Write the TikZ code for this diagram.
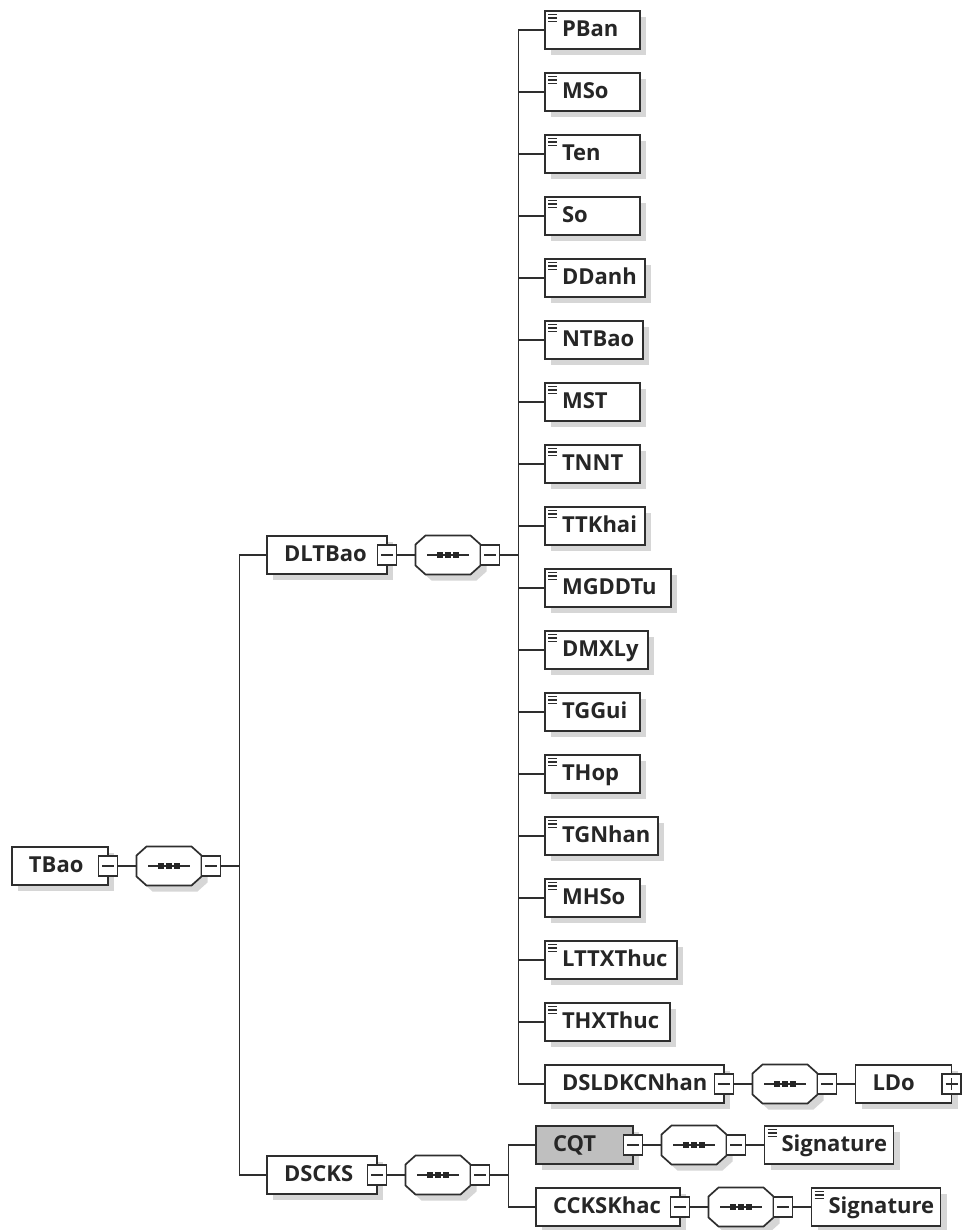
\documentclass[tikz,border=0pt]{standalone}
\usepackage{fontspec}
\setmainfont{Open Sans}
\usetikzlibrary{positioning,shadows}

\begin{document}
\begin{tikzpicture}[x=1pt, y=-1pt, line width=1.7pt, color=black!82, node distance=24pt,
  box/.style={rectangle, draw=black!82, fill=white, outer sep=0pt, inner sep=0pt,
    minimum height=38pt, text width=#1, align=left, text height=17pt, text depth=4pt,
    font=\fontsize{22}{24}\selectfont\bfseries, text=black!85, anchor=west,
    execute at begin node={\hspace*{17pt}},
    drop shadow={shadow xshift=6pt, shadow yshift=-6pt, fill=black!16, opacity=1}},
  elem/.style={box=#1, path picture={
    \draw[line width=1.3pt]
      ([shift={(3pt,-3.6pt)}]path picture bounding box.north west) -- +(9pt,0pt)
      ([shift={(3pt,-7pt)}]path picture bounding box.north west) -- +(9pt,0pt)
      ([shift={(3pt,-10.4pt)}]path picture bounding box.north west) -- +(9pt,0pt);}},
  btn/.style={rectangle, draw=black!82, fill=white, outer sep=0pt, inner sep=0pt,
    minimum width=19pt, minimum height=20pt, line width=1.4pt, path picture={
    \draw[line width=1.3pt] ([xshift=-6pt]path picture bounding box.center)
      -- ([xshift=6pt]path picture bounding box.center);}},
  plusbtn/.style={btn, path picture={
    \draw[line width=1.3pt] ([xshift=-6pt]path picture bounding box.center)
      -- ([xshift=6pt]path picture bounding box.center)
      ([yshift=-6pt]path picture bounding box.center)
      -- ([yshift=6pt]path picture bounding box.center);}},
  seq/.style={rectangle, outer sep=0pt, inner sep=0pt, minimum width=65pt, minimum height=39pt,
    append after command={\pgfextra{
    \draw[fill=white, drop shadow={shadow xshift=6pt, shadow yshift=-6pt, fill=black!16, opacity=1}]
      ([xshift=10pt]\tikzlastnode.north west) -- ([xshift=-10pt]\tikzlastnode.north east)
      -- ([yshift=-9pt]\tikzlastnode.north east) -- ([yshift=9pt]\tikzlastnode.south east)
      -- ([xshift=-10pt]\tikzlastnode.south east) -- ([xshift=10pt]\tikzlastnode.south west)
      -- ([yshift=9pt]\tikzlastnode.south west) -- ([yshift=-9pt]\tikzlastnode.north west) -- cycle;
    \draw[line width=1.3pt] ([xshift=-21pt]\tikzlastnode.center) -- ([xshift=21pt]\tikzlastnode.center);
    \fill[black!85] ([xshift=-8pt]\tikzlastnode.center) +(-2.8pt,-2.8pt) rectangle +(2.8pt,2.8pt)
      (\tikzlastnode.center) +(-2.8pt,-2.8pt) rectangle +(2.8pt,2.8pt)
      ([xshift=8pt]\tikzlastnode.center) +(-2.8pt,-2.8pt) rectangle +(2.8pt,2.8pt);}}}]

  \useasboundingbox (0,0) rectangle (963,1230);

  % root
  \node (TBao) [box=96pt] at (12,866) {TBao};
  \node (TBaoB) [btn] at (TBao.east) {};
  \node (TBaoS) [seq, right=19pt of TBaoB] {};
  \node (TBaoSB) [btn, right=0pt of TBaoS] {};
  \coordinate [right=19pt of TBaoSB] (bus0);

  % DLTBao
  \node (DLTBao) [box=120pt] at (267,555) {DLTBao};
  \node (DLTBaoB) [btn] at (DLTBao.east) {};
  \node (DLTBaoS) [seq, right=19pt of DLTBaoB] {};
  \node (DLTBaoSB) [btn, right=0pt of DLTBaoS] {};
  \coordinate [right=19pt of DLTBaoSB] (bus1);

  \node (PBan) [elem=95pt] at (545,30) {PBan};
  \node (MSo) [elem=95pt, below=of PBan.south west, anchor=north west] {MSo};
  \node (Ten) [elem=95pt, below=of MSo.south west, anchor=north west] {Ten};
  \node (So) [elem=95pt, below=of Ten.south west, anchor=north west] {So};
  \node (DDanh) [elem=100pt, below=of So.south west, anchor=north west] {DDanh};
  \node (NTBao) [elem=98pt, below=of DDanh.south west, anchor=north west] {NTBao};
  \node (MST) [elem=95pt, below=of NTBao.south west, anchor=north west] {MST};
  \node (TNNT) [elem=95pt, below=of MST.south west, anchor=north west] {TNNT};
  \node (TTKhai) [elem=100pt, below=of TNNT.south west, anchor=north west] {TTKhai};
  \node (MGDDTu) [elem=126pt, below=of TTKhai.south west, anchor=north west] {MGDDTu};
  \node (DMXLy) [elem=103pt, below=of MGDDTu.south west, anchor=north west] {DMXLy};
  \node (TGGui) [elem=95pt, below=of DMXLy.south west, anchor=north west] {TGGui};
  \node (THop) [elem=95pt, below=of TGGui.south west, anchor=north west] {THop};
  \node (TGNhan) [elem=113pt, below=of THop.south west, anchor=north west] {TGNhan};
  \node (MHSo) [elem=95pt, below=of TGNhan.south west, anchor=north west] {MHSo};
  \node (LTTXThuc) [elem=132pt, below=of MHSo.south west, anchor=north west] {LTTXThuc};
  \node (THXThuc) [elem=125pt, below=of LTTXThuc.south west, anchor=north west] {THXThuc};
  \node (DSLDKCNhan) [box=179pt, below=of THXThuc.south west, anchor=north west] {DSLDKCNhan};
  \node (DSLDKCNhanB) [btn] at (DSLDKCNhan.east) {};
  \node (DSLDKCNhanS) [seq, right=19pt of DSLDKCNhanB] {};
  \node (DSLDKCNhanSB) [btn, right=0pt of DSLDKCNhanS] {};
  \node (LDo) [box=96pt, right=19pt of DSLDKCNhanSB] {LDo};
  \node (LDoB) [plusbtn] at (LDo.east) {};

  % DSCKS
  \node (DSCKS) [box=110pt] at (267,1175) {DSCKS};
  \node (DSCKSB) [btn] at (DSCKS.east) {};
  \node (DSCKSS) [seq, right=19pt of DSCKSB] {};
  \node (DSCKSSB) [btn, right=0pt of DSCKSS] {};
  \coordinate [right=19pt of DSCKSSB] (bus2);

  \node (CQT) [box=97pt, fill=black!25] at (536,1145) {CQT};
  \node (CQTB) [btn] at (CQT.east) {};
  \node (CQTS) [seq, right=19pt of CQTB] {};
  \node (CQTSB) [btn, right=0pt of CQTS] {};
  \node (SigA) [elem=129pt, right=19pt of CQTSB] {Signature};

  \node (CCKSKhac) [box=144pt, below=of CQT.south west, anchor=north west] {CCKSKhac};
  \node (CCKSKhacB) [btn] at (CCKSKhac.east) {};
  \node (CCKSKhacS) [seq, right=19pt of CCKSKhacB] {};
  \node (CCKSKhacSB) [btn, right=0pt of CCKSKhacS] {};
  \node (SigB) [elem=129pt, right=19pt of CCKSKhacSB] {Signature};

  \draw (TBaoB) -- (TBaoS);
  \draw (TBaoSB) -- (bus0);
  \draw (bus0) |- (DLTBao);
  \draw (bus0) |- (DSCKS);

  \draw (DLTBaoB) -- (DLTBaoS);
  \draw (DLTBaoSB) -- (bus1);
  \draw (bus1) |- (PBan);
  \draw (bus1) |- (MSo);
  \draw (bus1) |- (Ten);
  \draw (bus1) |- (So);
  \draw (bus1) |- (DDanh);
  \draw (bus1) |- (NTBao);
  \draw (bus1) |- (MST);
  \draw (bus1) |- (TNNT);
  \draw (bus1) |- (TTKhai);
  \draw (bus1) |- (MGDDTu);
  \draw (bus1) |- (DMXLy);
  \draw (bus1) |- (TGGui);
  \draw (bus1) |- (THop);
  \draw (bus1) |- (TGNhan);
  \draw (bus1) |- (MHSo);
  \draw (bus1) |- (LTTXThuc);
  \draw (bus1) |- (THXThuc);
  \draw (bus1) |- (DSLDKCNhan);
  \draw (DSLDKCNhanB) -- (DSLDKCNhanS);
  \draw (DSLDKCNhanSB) -- (LDo);

  \draw (DSCKSB) -- (DSCKSS);
  \draw (DSCKSSB) -- (bus2);
  \draw (bus2) |- (CQT);
  \draw (bus2) |- (CCKSKhac);
  \draw (CQTB) -- (CQTS);
  \draw (CQTSB) -- (SigA);
  \draw (CCKSKhacB) -- (CCKSKhacS);
  \draw (CCKSKhacSB) -- (SigB);
\end{tikzpicture}
\end{document}
